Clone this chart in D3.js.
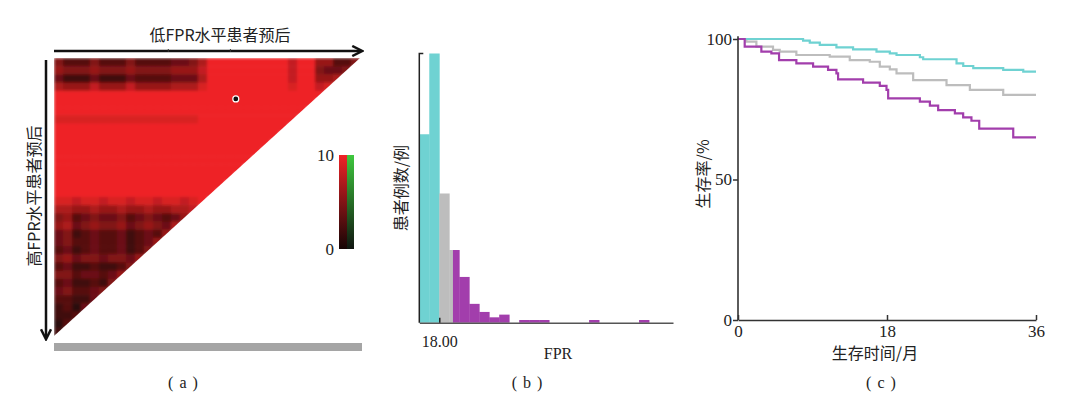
<!DOCTYPE html>
<html>
<head>
<meta charset="utf-8">
<script src="https://cdn.jsdelivr.net/npm/d3@7"></script>
<style>
  body { margin: 0; background: #fff; }
  text { font-family: "Liberation Serif", "Noto Sans CJK SC", serif; fill: #222; }
</style>
</head>
<body>
<svg id="fig" width="1067" height="395"></svg>
<script>
// ---- (a) heat map: one string per row, hex digit per cell, 0 = black ... a = 10 = red
const heatRows = [
  "5333533353333445" + "7aaaaaaaaa8aa66335",
  "6555655565555666" + "8aaaaaaaaa8aa5445",
  "4222422243333444" + "7aaaaaaaaa8aa667",
  "7666866686666777" + "9aaaaaaaaa9aa89",
  "aaaaaaaaaaaaaaaaaaaaaaaaaaaaaa",
  "aaaaaaaaaaaaaaaaaaaaaaaaaaaaa",
  "aaaaaaaaaaaaaaaaaaaaaaaaaaaa",
  "9999999999999999aaaaaaaaaaa",
  "aaaaaaaaaaaaaaaaaaaaaaaaaa",
  "aaaaaaaaaaaaaaaaaaaaaaaaa",
  "aaaaaaaaaaaaaaaaaaaaaaaa",
  "aaaaaaaaaaaaaaaaaaaaaaa",
  "aaaaaaaaaaaaaaaaaaaaaa",
  "aaaaaaaaaaaaaaaaaaaaa",
  "aaaaaaaaaaaaaaaaaaaa",
  "aaaaaaaaaaaaaaaaaaa",
  "aaaaaaaaaaaaaaaaaa",
  "9989989989989989a",
  "7766766766766778",
  "563454453454346",
  "67456556456547",
  "4523433423436",
  "453343342346",
  "34234334235",
  "5645545546",
  "342232235",
  "55344346",
  "3422325",
  "453345",
  "33224",
  "2314",
  "223",
  "13",
  "2"
];
const heatN = 34;
const heatLevels = [0, 10];
const heatDot = [20.2, 5.0];     // marked cell (column, row)
const arrowMarks = [12.7, 19.6]; // small marks on the top arrow (column units)

// ---- (b) FPR histogram
const binStart = [14, 16, 18, 20, 20.74, 22, 24, 26, 28, 30, 34, 36, 38, 48, 58];
const binEnd   = [16, 18, 20, 20.74, 22, 24, 26, 28, 30, 32, 36, 38, 40, 50, 60];
const binCount = [70, 100, 48, 27, 27, 17, 7, 4, 2, 3, 1, 1, 1, 1, 1];
const binGroup = ["low", "low", "mid", "mid", "high", "high", "high", "high", "high",
                  "high", "high", "high", "high", "high", "high"];
const fprTicks = [18];

// ---- (c) survival curves (step points: month, survival %)
const lowMonths  = [0, 7.86, 8.67, 9.88, 11.89, 13.9, 16.73, 18.34, 19.15, 21.97, 22.37, 26.4, 27.21, 28.42, 32.04, 34.46, 36];
const lowSurv    = [100, 99.4, 98.7, 97.9, 97.0, 96.3, 95.5, 94.9, 94.3, 93.5, 92.8, 91.3, 90.4, 89.6, 89.0, 88.4, 88.4];
const midMonths  = [0, 1.01, 2.22, 4.23, 5.04, 7.05, 11.08, 13.5, 15.92, 17.13, 18.34, 19.15, 21.16, 25.19, 28.01, 32.04, 36];
const midSurv    = [100, 99.1, 97.3, 96.1, 95.5, 94.3, 93.7, 92.5, 91.9, 90.2, 89.2, 87.8, 85.4, 83.6, 81.9, 80.1, 80.1];
const highMonths = [0, 0.81, 2.82, 4.03, 4.96, 7.05, 9.07, 10.88, 11.89, 12.09, 15.11, 17.13, 17.94, 18.14, 21.97, 23.18, 24.18, 26.2, 27.2, 28.2, 29.14, 33.25, 36];
const highSurv   = [100, 97.3, 95.5, 94.9, 92.5, 91.3, 90.2, 89.0, 87.8, 85.6, 84.5, 83.3, 81.9, 78.9, 77.7, 76.3, 74.7, 73.5, 72.1, 70.9, 68.1, 65.0, 65.0];
const monthTicks = [0, 18, 36];
const survTicks = [0, 50, 100];

const groupColor = { low: "#6fd2d2", mid: "#bdbdbd", high: "#a23eac" };
const cjk = '"Noto Sans CJK SC", "Liberation Serif", sans-serif';

const svg = d3.select("#fig");
const defs = svg.append("defs");

// ================= (a) =================
const hx = d3.scaleLinear().domain([0, heatN]).range([54, 360]);
const hy = d3.scaleLinear().domain([0, heatN]).range([58, 336]);
const heatColor = d3.scaleLinear().domain(heatLevels).range(["#160505", "#ee2327"]);

defs.append("clipPath").attr("id", "tri")
  .append("path")
  .attr("d", `M${hx(0)},${hy(0)}L${hx(heatN)},${hy(0)}L${hx(0)},${hy(heatN)}Z`);
defs.append("filter").attr("id", "soft")
  .attr("x", "-5%").attr("y", "-5%").attr("width", "110%").attr("height", "110%")
  .append("feGaussianBlur").attr("stdDeviation", 1.8);

const cells = [];
heatRows.forEach((row, r) => {
  row.split("").forEach((ch, c) => cells.push({ r, c, v: parseInt(ch, 16) }));
});

svg.append("g").attr("clip-path", "url(#tri)")
  .append("g").attr("filter", "url(#soft)")
  .selectAll("rect")
  .data(cells)
  .enter()
  .append("rect")
  .attr("x", d => hx(d.c))
  .attr("y", d => hy(d.r))
  .attr("width", hx(1) - hx(0) + 0.6)
  .attr("height", hy(1) - hy(0) + 0.6)
  .attr("fill", d => heatColor(d.v));

// marked cell
svg.append("circle")
  .attr("cx", hx(heatDot[0])).attr("cy", hy(heatDot[1])).attr("r", 3)
  .attr("fill", "#111").attr("stroke", "#fff").attr("stroke-width", 1.2);

// gray strip under the map
svg.append("rect")
  .attr("x", hx(0)).attr("y", hy(heatN) + 7)
  .attr("width", hx(heatN) - hx(0) + 2).attr("height", 8)
  .attr("fill", "#a5a5a5");

// arrows
defs.append("marker").attr("id", "arrowHead")
  .attr("viewBox", "0 0 10 10").attr("refX", 8).attr("refY", 5)
  .attr("markerWidth", 5).attr("markerHeight", 5).attr("orient", "auto")
  .append("path").attr("d", "M1,1L9,5L1,9").attr("fill", "none")
  .attr("stroke", "#111").attr("stroke-width", 2);

svg.append("line")
  .attr("x1", hx(0)).attr("x2", hx(heatN) + 1)
  .attr("y1", hy(0) - 7).attr("y2", hy(0) - 7)
  .attr("stroke", "#111").attr("stroke-width", 2.5)
  .attr("marker-end", "url(#arrowHead)");
svg.selectAll(".amark").data(arrowMarks).enter().append("line")
  .attr("x1", d => hx(d)).attr("x2", d => hx(d))
  .attr("y1", hy(0) - 9).attr("y2", hy(0) - 6)
  .attr("stroke", "#333").attr("stroke-width", 1);

svg.append("line")
  .attr("x1", hx(0) - 8).attr("x2", hx(0) - 8)
  .attr("y1", hy(0) + 2).attr("y2", hy(heatN) + 2)
  .attr("stroke", "#111").attr("stroke-width", 2.5)
  .attr("marker-end", "url(#arrowHead)");

svg.append("text")
  .attr("x", 220).attr("y", 41)
  .attr("text-anchor", "middle")
  .style("font-family", cjk).style("font-size", "16px")
  .text("低FPR水平患者预后");

svg.append("text")
  .attr("transform", `translate(40,${hy(heatN / 2) - 1}) rotate(-90)`)
  .attr("text-anchor", "middle")
  .style("font-family", cjk).style("font-size", "16px")
  .text("高FPR水平患者预后");

// color bar
const cbY = d3.scaleLinear().domain(heatLevels).range([249, 155]);
const gRed = defs.append("linearGradient").attr("id", "cbRed")
  .attr("x1", 0).attr("x2", 0).attr("y1", 1).attr("y2", 0);
gRed.append("stop").attr("offset", 0).attr("stop-color", heatColor(0));
gRed.append("stop").attr("offset", 1).attr("stop-color", heatColor(10));
const gGreen = defs.append("linearGradient").attr("id", "cbGreen")
  .attr("x1", 0).attr("x2", 0).attr("y1", 1).attr("y2", 0);
gGreen.append("stop").attr("offset", 0).attr("stop-color", "#101510");
gGreen.append("stop").attr("offset", 1).attr("stop-color", "#3ec83e");

svg.append("rect").attr("x", 339).attr("y", cbY(10))
  .attr("width", 8).attr("height", cbY(0) - cbY(10)).attr("fill", "url(#cbRed)");
svg.append("rect").attr("x", 347).attr("y", cbY(10))
  .attr("width", 7).attr("height", cbY(0) - cbY(10)).attr("fill", "url(#cbGreen)");
svg.selectAll(".cbl").data(heatLevels).enter().append("text")
  .attr("x", 334).attr("y", d => cbY(d) + 6)
  .attr("text-anchor", "end")
  .style("font-size", "17px")
  .text(d => d);

// ================= (b) =================
const bx = d3.scaleLinear().domain([14, 64.8]).range([419.3, 673]);
const by = d3.scaleLinear().domain([0, 100]).range([322.7, 53.5]);
const bins = binStart.map((s, i) => ({ x0: s, x1: binEnd[i], n: binCount[i], g: binGroup[i] }));

svg.append("g").selectAll("rect")
  .data(bins)
  .enter()
  .append("rect")
  .attr("x", d => bx(d.x0))
  .attr("y", d => by(d.n))
  .attr("width", d => bx(d.x1) - bx(d.x0) + 0.4)
  .attr("height", d => by(0) - by(d.n))
  .attr("fill", d => groupColor[d.g]);

// y axis with bracket tick at top
svg.append("path")
  .attr("d", `M${bx(14) + 4},${by(100)}H${bx(14)}V${by(0)}`)
  .attr("fill", "none").attr("stroke", "#222").attr("stroke-width", 1.5);

const bAxis = svg.append("g")
  .attr("transform", `translate(0,${by(0)})`)
  .call(d3.axisBottom(bx).tickValues(fprTicks).tickSizeInner(-5).tickSizeOuter(0)
    .tickPadding(13).tickFormat(d3.format(".2f")));
bAxis.select(".domain").attr("stroke", "#555").attr("stroke-width", 1.6);
bAxis.selectAll(".tick line").attr("stroke", "#222").attr("stroke-width", 1.5);
bAxis.selectAll(".tick text").style("font-size", "16px")
  .style("font-family", '"Liberation Serif", serif').attr("fill", "#222");

svg.append("text")
  .attr("x", 558).attr("y", 359)
  .attr("text-anchor", "middle")
  .style("font-size", "16px")
  .text("FPR");

svg.append("text")
  .attr("transform", `translate(407,${by(50)}) rotate(-90)`)
  .attr("text-anchor", "middle")
  .style("font-family", cjk).style("font-size", "16px")
  .text("患者例数/例");

// ================= (c) =================
const sx = d3.scaleLinear().domain([0, 36]).range([738, 1036]);
const sy = d3.scaleLinear().domain([0, 100]).range([320, 39]);
const survLine = d3.line()
  .x(d => sx(d[0]))
  .y(d => sy(d[1]))
  .curve(d3.curveStepAfter);

const curves = [
  { g: "mid", pts: d3.zip(midMonths, midSurv) },
  { g: "low", pts: d3.zip(lowMonths, lowSurv) },
  { g: "high", pts: d3.zip(highMonths, highSurv) }
];

svg.append("g").selectAll("path")
  .data(curves)
  .enter()
  .append("path")
  .attr("d", d => survLine(d.pts))
  .attr("fill", "none")
  .attr("stroke", d => groupColor[d.g])
  .attr("stroke-width", 2.2);

const cy = svg.append("g")
  .attr("transform", `translate(${sx(0)},0)`)
  .call(d3.axisLeft(sy).tickValues(survTicks).tickSizeInner(5).tickSizeOuter(0).tickPadding(1));
const cx = svg.append("g")
  .attr("transform", `translate(0,${sy(0)})`)
  .call(d3.axisBottom(sx).tickValues(monthTicks).tickSizeInner(-5).tickSizeOuter(0).tickPadding(5));
[cx, cy].forEach(a => {
  a.select(".domain").attr("stroke", "#333").attr("stroke-width", 1.6);
  a.selectAll(".tick line").attr("stroke", "#333").attr("stroke-width", 1.5);
  a.selectAll(".tick text").style("font-size", "17px")
    .style("font-family", '"Liberation Serif", serif').attr("fill", "#222");
});
cy.select(".domain").attr("d", `M0,${sy(0)}V${sy(101)}`);

svg.append("text")
  .attr("x", sx(18) - 12).attr("y", 359)
  .attr("text-anchor", "middle")
  .style("font-family", cjk).style("font-size", "16px")
  .text("生存时间/月");

svg.append("text")
  .attr("transform", `translate(709,${sy(52)}) rotate(-90)`)
  .attr("text-anchor", "middle")
  .style("font-family", cjk).style("font-size", "16px")
  .text("生存率/%");

// ================= captions =================
const captions = [["( a )", 183], ["( b )", 527], ["( c )", 881]];
svg.selectAll(".cap").data(captions).enter().append("text")
  .attr("x", d => d[1]).attr("y", 388)
  .attr("text-anchor", "middle")
  .style("font-size", "16px")
  .style("word-spacing", "2px")
  .text(d => d[0]);
</script>
</body>
</html>
